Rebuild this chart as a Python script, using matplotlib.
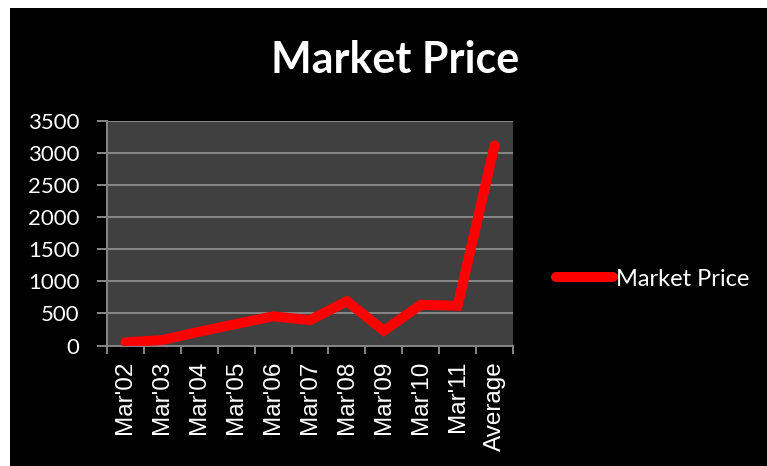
import matplotlib

matplotlib.use("Agg")
import matplotlib.pyplot as plt
from matplotlib.patches import Rectangle

# Market price by year, plus the overall average
categories = ["Mar'02", "Mar'03", "Mar'04", "Mar'05", "Mar'06", "Mar'07",
              "Mar'08", "Mar'09", "Mar'10", "Mar'11", "Average"]
market_price = [50, 85, 215, 335, 455, 395, 690, 230, 635, 620, 3120]
y_ticks = [0, 500, 1000, 1500, 2000, 2500, 3000, 3500]

W, H = 767, 466
fig = plt.figure(figsize=(W / 100, H / 100), dpi=100, facecolor="white")

# black chart area with a thin white margin on the top and left
fig.patches.append(
    Rectangle((10 / W, 0), 1 - 10 / W, 1 - 8 / H, transform=fig.transFigure,
              facecolor="black", edgecolor="none", zorder=-5)
)

ax = fig.add_axes([107 / W, 1 - 345.5 / H, (513 - 107) / W, (345.5 - 121) / H])
ax.set_facecolor("#404040")

x = list(range(len(categories)))
ax.plot(x, market_price, color="#ff0000", linewidth=7.2,
        solid_capstyle="round", solid_joinstyle="miter", label="Market Price",
        zorder=3)

ax.set_xlim(-0.5, len(categories) - 0.5)
ax.set_ylim(0, 3500)

# y axis
ax.set_yticks(y_ticks)
ax.set_yticklabels([str(v) for v in y_ticks], family="Lato", fontsize=16,
                   color="white")
ax.grid(axis="y", color="#868686", linewidth=1.4, zorder=1)
ax.tick_params(axis="y", direction="out", length=7, width=1.4,
               color="#868686", pad=13)

# x axis: ticks sit between categories, labels centred under each one
ax.set_xticks([i - 0.5 for i in range(len(categories) + 1)])
ax.set_xticklabels([])
ax.set_xticks(x, minor=True)
ax.set_xticklabels(categories, minor=True, rotation=90, family="Liberation Sans",
                   fontsize=17.5, color="white")
ax.tick_params(axis="x", which="major", direction="out", length=6, width=1.4,
               color="#868686")
ax.tick_params(axis="x", which="minor", length=0, pad=11)

for side in ["top", "right"]:
    ax.spines[side].set_visible(False)
for side in ["left", "bottom"]:
    ax.spines[side].set_color("#868686")
    ax.spines[side].set_linewidth(1.4)

fig.text(395 / W, 1 - 73 / H, "Market Price", family="Lato", fontweight="bold",
         fontsize=31, color="white", ha="center", va="baseline")

leg = fig.legend(loc="center left", bbox_to_anchor=(556 / W, 1 - 279 / H),
                 frameon=False, borderpad=0, borderaxespad=0,
                 handlelength=2.4, handletextpad=0.15,
                 prop={"family": "Lato", "size": 17})
for text in leg.get_texts():
    text.set_color("white")

fig.savefig("out.png", dpi=100, facecolor=fig.get_facecolor())
